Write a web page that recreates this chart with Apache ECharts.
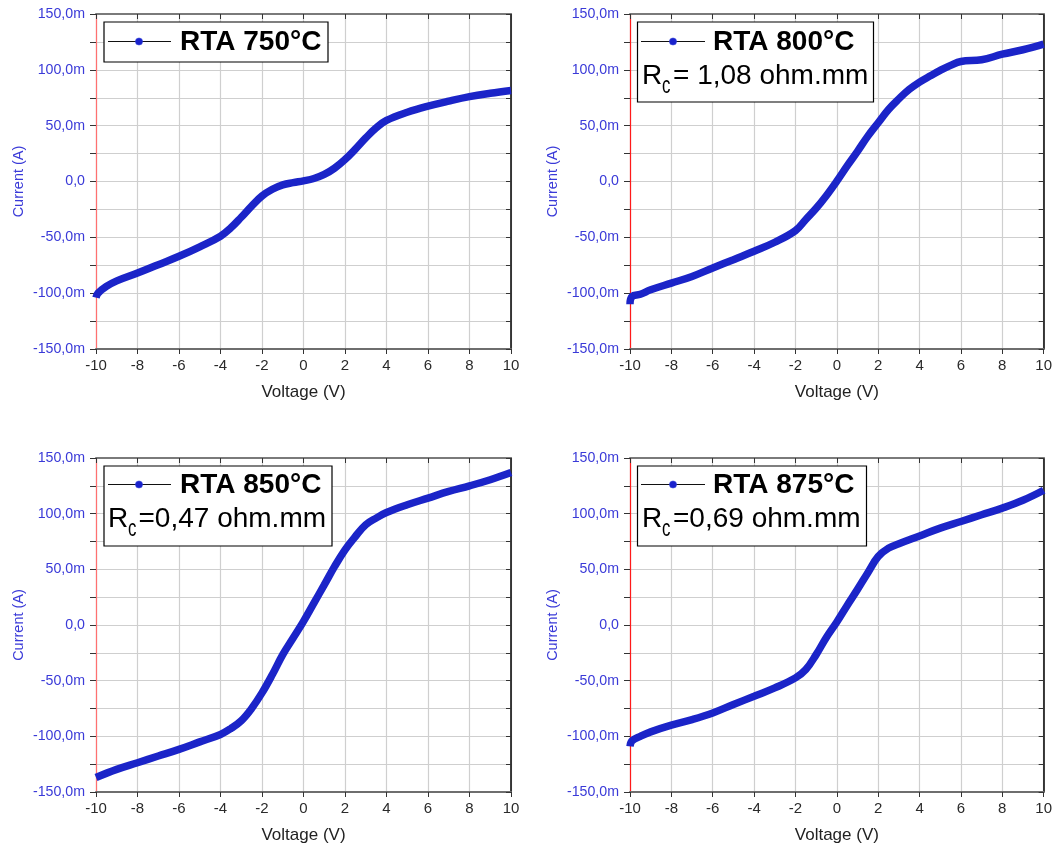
<!DOCTYPE html>
<html>
<head>
<meta charset="utf-8">
<script src="https://cdn.jsdelivr.net/npm/echarts@6/dist/echarts.min.js"></script>
<style>
html,body{margin:0;padding:0;background:#fff;}
#c{width:1055px;height:850px;}
</style>
</head>
<body>
<div id="c"></div>
<script>
// Voltage (V) / Current (mA)
var v750 = [-10,-9.9,-9.5,-9,-8,-7,-6,-5,-4,-3.5,-3,-2.5,-2,-1.5,-1,-0.5,0,0.5,1,1.5,2,2.5,3,3.5,4,5,6,7,8,9,10];
var i750 = [-104,-100,-94,-89,-82,-74.5,-67,-58.5,-49,-41.5,-32,-22,-13,-7,-3,-1,0.6,2.7,6.3,12,19.7,29,39,48,54.7,62,67.5,72,76,79,81.5];

var v800 = [-10,-9.9,-9.5,-9,-8,-7,-6,-5,-4,-3,-2,-1.5,-1,-0.5,0,0.5,1,1.5,2,2.5,3,3.5,4,4.5,5,5.5,6,7,8,9,10];
var i800 = [-110,-103,-101,-97,-91,-85,-77.4,-70,-62.4,-54.4,-44,-34,-24,-12.5,0.3,14,27,40.6,52.6,64.5,74,82.5,89,94.4,99.5,104,107.5,109,114,118,123];

var v850 = [-10,-9,-8,-7,-6,-5,-4,-3.5,-3,-2.5,-2,-1.5,-1,-0.5,0,0.5,1,1.5,2,2.5,3,3.5,4,5,6,7,8,9,10];
var i850 = [-137,-129.7,-123.7,-117.7,-111.7,-105,-98.3,-93,-86,-75,-61,-44.5,-26.6,-11.7,3.3,19.7,36,52.6,67.5,79.5,90,96,101,108,114,120,125,130.5,137];

var v875 = [-10,-9.9,-9.5,-9,-8,-7,-6,-5,-4,-3,-2,-1.5,-1,-0.5,0,0.5,1,1.5,2,2.5,3,4,5,6,7,8,9,10];
var i875 = [-109,-104,-100,-96,-90,-85,-79,-71.4,-64,-56.5,-47.5,-40,-26.6,-11,2.7,17.6,32,47,61.5,69,73,80,87,93,99,105,112,121];

var seriesNames = ['RTA 750°C','RTA 800°C','RTA 850°C','RTA 875°C'];
var rcTexts = [null, '= 1,08 ohm.mm', '=0,47 ohm.mm', '=0,69 ohm.mm'];
var xTicks = {min:-10, max:10, step:2};
var yTicks = {min:-150, max:150, step:25, labelStep:50};

var FONT = '"Liberation Sans", Arial, sans-serif';
var CURVE = '#1b24c8';
var volts = [v750, v800, v850, v875];
var amps = [i750, i800, i850, i875];

var grids = [
  {left:96, top:14, width:415, height:335, red:'#ff7070'},
  {left:630, top:14, width:416, height:335, red:'#ff1a1a'},
  {left:96, top:458, width:415, height:334, red:'#ff7070'},
  {left:630, top:458, width:416, height:334, red:'#ff1a1a'}
];

function yFmt(v){
  if (Math.round(v) % yTicks.labelStep !== 0) return '';
  if (v === 0) return '0,0';
  return v.toFixed(1).replace('.', ',') + 'm';
}

var option = {
  animation:false,
  backgroundColor:'#fff',
  grid:[], xAxis:[], yAxis:[], series:[], graphic:[]
};

grids.forEach(function(g, i){
  option.grid.push({left:g.left, top:g.top, width:g.width, height:g.height, containLabel:false, show:false});
  // bottom x axis
  option.xAxis.push({
    type:'value', gridIndex:i, position:'bottom', min:xTicks.min, max:xTicks.max, interval:xTicks.step,
    name:'Voltage (V)', nameLocation:'middle', nameGap:35,
    nameTextStyle:{color:'#222', fontSize:17, fontFamily:FONT},
    axisLine:{show:true, onZero:false, lineStyle:{color:'#6e6e6e', width:2}},
    axisTick:{show:true, inside:false, length:5, lineStyle:{color:'#333'}},
    axisLabel:{show:true, color:'#2a2a2a', fontSize:15, fontFamily:FONT, margin:9},
    splitLine:{show:true, lineStyle:{color:'#cfcfcf', width:1.2}}
  });
  // top x axis
  option.xAxis.push({
    type:'value', gridIndex:i, position:'top', min:xTicks.min, max:xTicks.max, interval:xTicks.step,
    axisLine:{show:true, onZero:false, lineStyle:{color:'#7a7a7a', width:2}},
    axisTick:{show:true, inside:true, length:5, lineStyle:{color:'#333'}},
    axisLabel:{show:false}, splitLine:{show:false}
  });
  // left y axis
  option.yAxis.push({
    type:'value', gridIndex:i, position:'left', min:yTicks.min, max:yTicks.max, interval:yTicks.step,
    name:'Current (A)', nameLocation:'middle', nameGap:70,
    nameTextStyle:{color:'#3a3ad8', fontSize:14.5, fontFamily:FONT},
    axisLine:{show:true, onZero:false, lineStyle:{color:g.red, width:1.2}},
    axisTick:{show:true, inside:false, length:6, lineStyle:{color:'#333'}},
    axisLabel:{show:true, color:'#3a3ad8', fontSize:14.2, fontFamily:FONT, margin:11, formatter:yFmt},
    splitLine:{show:true, lineStyle:{color:'#cfcfcf', width:1.2}}
  });
  // right y axis
  option.yAxis.push({
    type:'value', gridIndex:i, position:'right', min:yTicks.min, max:yTicks.max, interval:yTicks.step,
    axisLine:{show:true, onZero:false, lineStyle:{color:'#000', width:1.5}},
    axisTick:{show:true, inside:true, length:5, lineStyle:{color:'#333'}},
    axisLabel:{show:false}, splitLine:{show:false}
  });
  var data = volts[i].map(function(v, k){ return [v, amps[i][k]]; });
  option.series.push({
    type:'line', name:seriesNames[i], xAxisIndex:2*i, yAxisIndex:2*i,
    data:data, showSymbol:false, symbol:'none', smooth:0.4,
    lineStyle:{color:CURVE, width:7.5}, z:3
  });
});

// Legend boxes
var boxes = [
  {x:104, y:22, w:224, h:40, lx1:108, lx2:171, cx:139, ly:41.5, tx:180, ty:42},
  {x:637.5, y:22, w:236, h:80, lx1:641, lx2:705, cx:673, ly:41.5, tx:713, ty:42, rx:642, ry:76, cxs:662, eqx:673},
  {x:104, y:466, w:228, h:80, lx1:108, lx2:171, cx:139, ly:484.5, tx:180, ty:485, rx:108, ry:519, cxs:128, eqx:138.5},
  {x:637.5, y:466, w:229, h:80, lx1:641, lx2:705, cx:673, ly:484.5, tx:713, ty:485, rx:642, ry:519, cxs:662, eqx:673}
];
boxes.forEach(function(b, i){
  var Z = 100;
  var children = [
    {type:'rect', z:Z, shape:{x:b.x, y:b.y, width:b.w, height:b.h}, style:{fill:'#fff', stroke:'#000', lineWidth:1.2}},
    {type:'line', z:Z+1, shape:{x1:b.lx1, y1:b.ly, x2:b.lx2, y2:b.ly}, style:{stroke:'#111', lineWidth:1}},
    {type:'circle', z:Z+2, shape:{cx:b.cx, cy:b.ly, r:3.6}, style:{fill:'#1a22cc', stroke:'#3344dd', lineWidth:0.5}},
    {type:'text', z:Z+2, x:b.tx, y:b.ty, style:{text:seriesNames[i], font:'bold 28px ' + FONT, fill:'#000', align:'left', verticalAlign:'middle'}}
  ];
  if (rcTexts[i]) {
    children.push({type:'text', z:Z+2, x:b.rx, y:b.ry, style:{text:'R', font:'28px ' + FONT, fill:'#000', align:'left', verticalAlign:'middle'}});
    children.push({type:'text', z:Z+2, x:b.cxs, y:b.ry + 10, scaleX:0.7, style:{text:'c', font:'24px ' + FONT, fill:'#000', align:'left', verticalAlign:'middle'}});
    children.push({type:'text', z:Z+2, x:b.eqx, y:b.ry, style:{text:rcTexts[i], font:'28px ' + FONT, fill:'#000', align:'left', verticalAlign:'middle'}});
  }
  option.graphic.push({type:'group', z:Z, children:children});
});

var chart = echarts.init(document.getElementById('c'), null, {renderer:'canvas'});
chart.setOption(option);
</script>
</body>
</html>
